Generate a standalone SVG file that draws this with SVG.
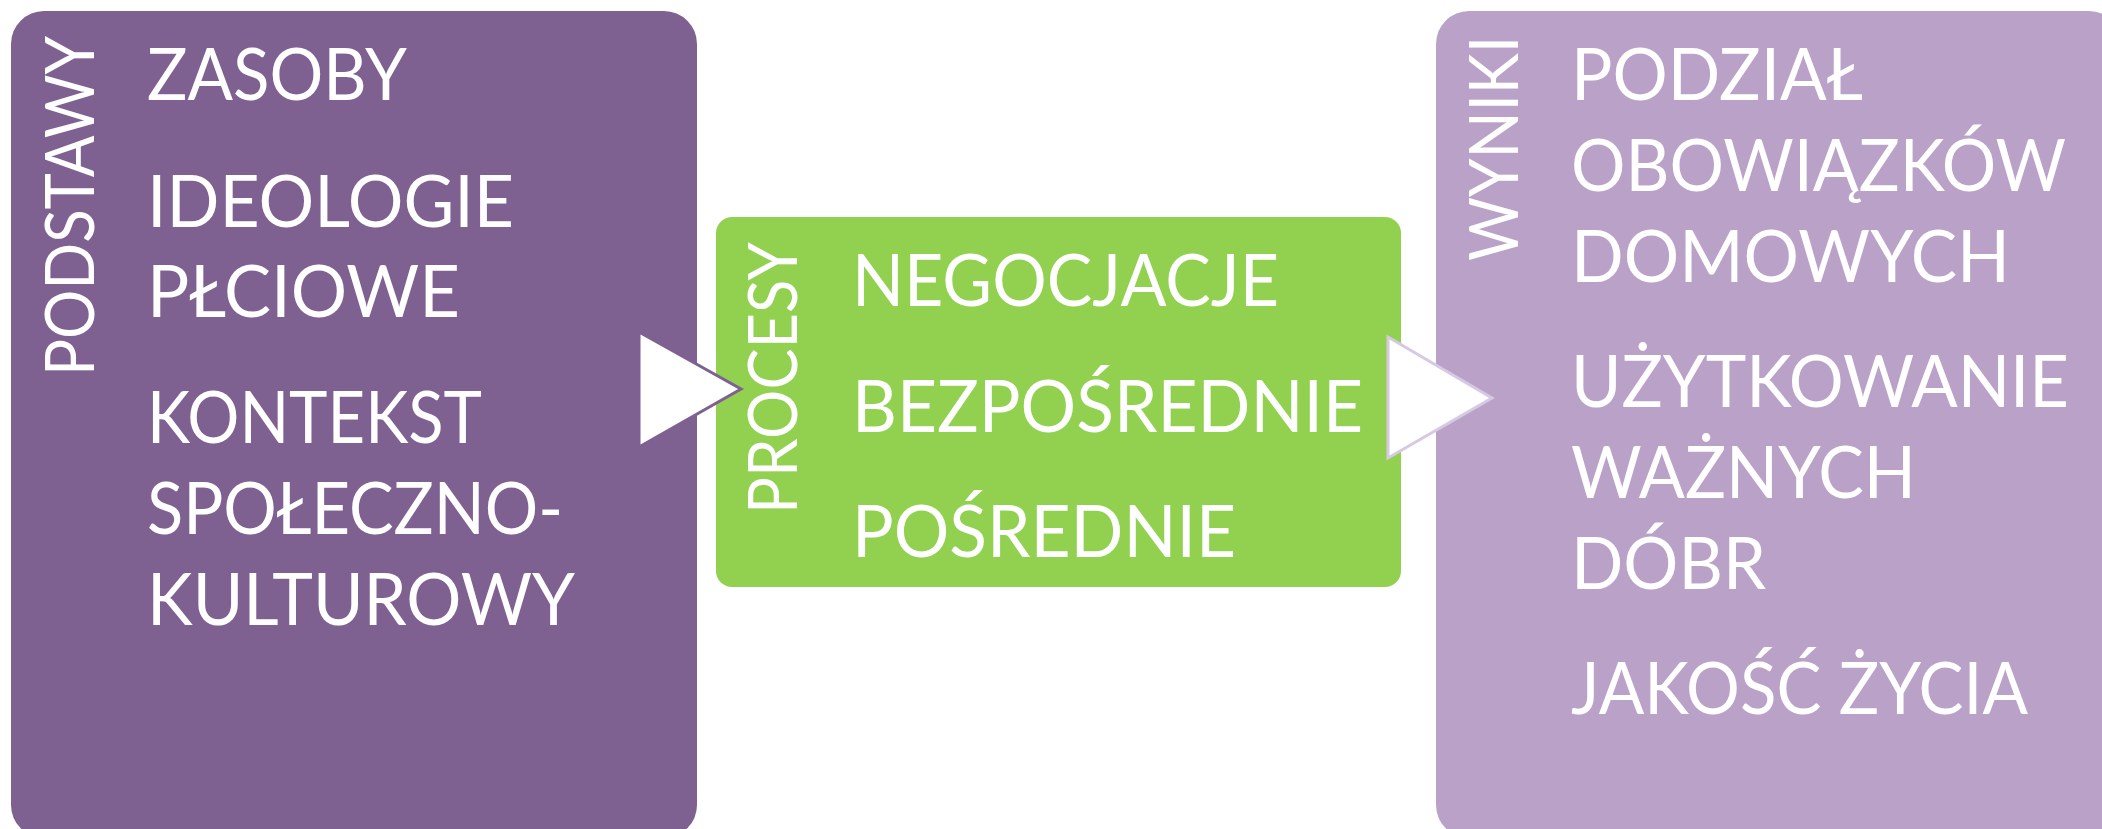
<svg xmlns="http://www.w3.org/2000/svg" width="2102" height="829" viewBox="0 0 2102 829">
<defs>
<style>
.t{font-family:"Lato","Open Sans",sans-serif;font-size:72px;fill:#ffffff;}
.v{font-family:"Lato","Open Sans",sans-serif;font-size:67px;fill:#ffffff;}
</style>
</defs>
<rect x="0" y="0" width="2102" height="829" fill="#ffffff"/>
<g id="podstawy">
<rect x="11" y="11" width="686" height="827" rx="33" ry="33" fill="#7E6091"/>
<text class="v" transform="translate(94,376) rotate(-90)" textLength="340" lengthAdjust="spacingAndGlyphs">PODSTAWY</text>
<text class="t" x="147" y="100" textLength="260" lengthAdjust="spacingAndGlyphs">ZASOBY</text>
<text class="t" x="147" y="227" textLength="367" lengthAdjust="spacingAndGlyphs">IDEOLOGIE</text>
<text class="t" x="147" y="317" textLength="313" lengthAdjust="spacingAndGlyphs">PŁCIOWE</text>
<text class="t" x="147" y="443" textLength="335" lengthAdjust="spacingAndGlyphs">KONTEKST</text>
<text class="t" x="147" y="534" textLength="416" lengthAdjust="spacingAndGlyphs">SPOŁECZNO-</text>
<text class="t" x="147" y="625" textLength="428" lengthAdjust="spacingAndGlyphs">KULTUROWY</text>
</g>
<g id="procesy">
<rect x="716" y="217" width="685" height="370" rx="16" ry="16" fill="#92D050"/>
<text class="v" style="font-size:68px" transform="translate(797,514) rotate(-90)" textLength="272" lengthAdjust="spacingAndGlyphs">PROCESY</text>
<text class="t" x="852" y="306" textLength="427" lengthAdjust="spacingAndGlyphs">NEGOCJACJE</text>
<text class="t" x="852" y="432" textLength="511" lengthAdjust="spacingAndGlyphs">BEZPOŚREDNIE</text>
<text class="t" x="852" y="557" textLength="384" lengthAdjust="spacingAndGlyphs">POŚREDNIE</text>
</g>
<g id="wyniki">
<rect x="1436" y="11" width="686" height="827" rx="33" ry="33" fill="#BAA1C8"/>
<text class="v" transform="translate(1518,261) rotate(-90)" textLength="225" lengthAdjust="spacingAndGlyphs">WYNIKI</text>
<text class="t" x="1571" y="100" textLength="292" lengthAdjust="spacingAndGlyphs">PODZIAŁ</text>
<text class="t" x="1571" y="191" textLength="495" lengthAdjust="spacingAndGlyphs">OBOWIĄZKÓW</text>
<text class="t" x="1571" y="282" textLength="439" lengthAdjust="spacingAndGlyphs">DOMOWYCH</text>
<text class="t" x="1571" y="407" textLength="498" lengthAdjust="spacingAndGlyphs">UŻYTKOWANIE</text>
<text class="t" x="1571" y="498" textLength="345" lengthAdjust="spacingAndGlyphs">WAŻNYCH</text>
<text class="t" x="1571" y="589" textLength="195" lengthAdjust="spacingAndGlyphs">DÓBR</text>
<text class="t" x="1571" y="714" textLength="457" lengthAdjust="spacingAndGlyphs">JAKOŚĆ ŻYCIA</text>
</g>
<g id="connectors">
<polygon points="639,332 741,389 639,447" fill="#ffffff" stroke="#7E6091" stroke-width="3" stroke-linejoin="miter"/>
<polygon points="1388,337 1492,398 1388,458" fill="#ffffff" stroke="#D6C9E3" stroke-width="3" stroke-linejoin="miter"/>
</g>
</svg>
